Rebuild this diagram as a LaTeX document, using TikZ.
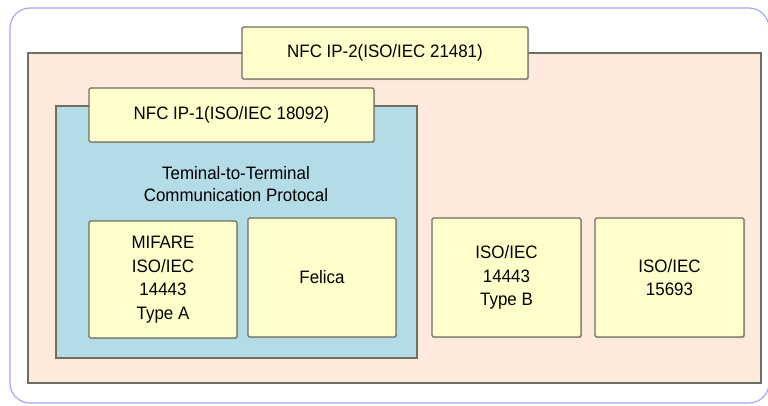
\documentclass[tikz,border=0pt]{standalone}
\usepackage{fontspec}
\setmainfont[FakeStretch=0.94]{Liberation Sans}
\usepackage{tikz}
\usetikzlibrary{shadows}
\definecolor{framecol}{RGB}{165,165,250}
\definecolor{peach}{RGB}{253,234,221}
\definecolor{skyfill}{RGB}{180,220,230}
\definecolor{paleyellow}{RGB}{255,255,204}
\definecolor{edgecol}{RGB}{110,110,100}
\tikzstyle{area}=[draw=edgecol, line width=1.3pt, inner sep=0pt,
  drop shadow={shadow xshift=1pt, shadow yshift=-1pt, opacity=.35}]
\tikzstyle{card}=[area, fill=paleyellow, rounded corners=1.5pt, align=center,
  font=\fontsize{18}{23.5}\selectfont]

\begin{document}
\begin{tikzpicture}[x=1pt, y=-1pt]
        \useasboundingbox (0, 0) rectangle (768, 405);
        \node[draw=framecol, line width=1.2pt, rounded corners=20pt, minimum width=759pt, minimum height=395pt] (frame) at (389.5, 205.5) {};
        \node[area, fill=peach, minimum width=733pt, minimum height=330pt] (ip2area) at (394.5, 218) {};
        \node[card, minimum width=286pt, minimum height=52pt] (ip2) at (385, 53) {NFC IP-2(ISO/IEC 21481)};
        \node[area, fill=skyfill, minimum width=361pt, minimum height=252pt] (ip1area) at (236.5, 232) {};
        \node[card, minimum width=285pt, minimum height=54pt] (ip1) at (231.5, 115) {NFC IP-1(ISO/IEC 18092)};
        \node[align=center, font=\fontsize{18}{22}\selectfont] (proto) at (236, 184) {Teminal-to-Terminal\\Communication Protocal};
        \node[card, minimum width=148pt, minimum height=117pt] (mifare) at (163, 279.5) {MIFARE\\ISO/IEC\\14443\\Type A};
        \node[card, minimum width=148pt, minimum height=119pt] (felica) at (322, 277.5) {Felica};
        \node[card, minimum width=149pt, minimum height=119pt] (typeb) at (506.5, 277.5) {ISO/IEC\\14443\\Type B};
        \node[card, minimum width=149pt, minimum height=119pt] (iso15693) at (669.5, 277.5) {ISO/IEC\\15693};
    \end{tikzpicture}
\end{document}
